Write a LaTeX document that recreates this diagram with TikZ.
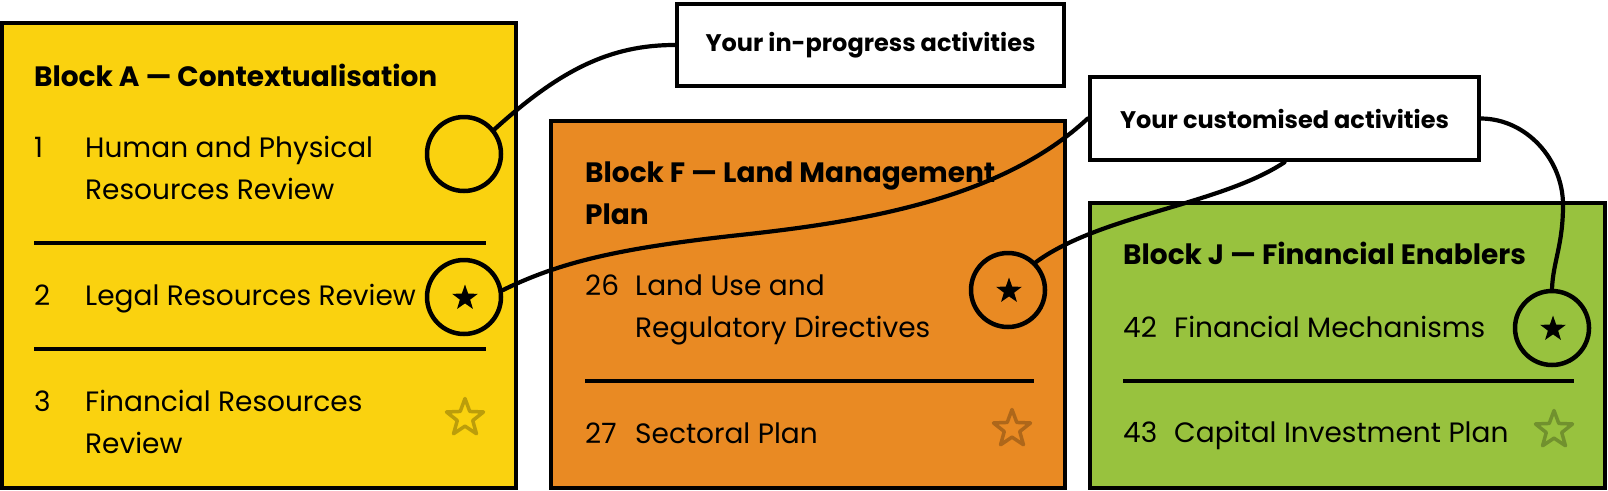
\documentclass[tikz,border=0pt]{standalone}
\usepackage{fontspec}
\setmainfont{Poppins}
\usetikzlibrary{shapes.geometric}

\definecolor{blockA}{RGB}{250,210,15}
\definecolor{blockF}{RGB}{233,138,35}
\definecolor{blockJ}{RGB}{152,194,62}

\begin{document}
\begin{tikzpicture}[line cap=round,line join=round,x=1pt,y=-1pt,
    frame/.style={draw=black,line width=4.5pt,line cap=butt,line join=miter},
    rule/.style={line width=3.5pt,line cap=butt},
    item/.style={anchor=base west,inner sep=0pt,font=\fontsize{28}{34}\selectfont},
    head/.style={anchor=base west,inner sep=0pt,font=\fontsize{28}{34}\selectfont\bfseries},
    ring/.style={circle,draw=black,line width=4.5pt,minimum size=74pt,inner sep=0pt},
    solidstar/.style={star,star points=5,star point ratio=2.5,fill=black,minimum size=27pt,inner sep=0pt},
    faintstar/.style={star,star points=5,star point ratio=2.4,draw=black,draw opacity=0.25,line width=3.5pt,minimum size=39pt,inner sep=0pt},
    note/.style={draw=black,fill=white,line width=4.5pt,line join=miter,inner sep=0pt,font=\fontsize{24}{28}\selectfont\bfseries},
    link/.style={line width=4.2pt}]
        \useasboundingbox (0,0) rectangle (1608,490);
        \draw [frame,fill=blockA] (2,23) rectangle (516,488);
        \draw [frame,fill=blockF] (551,121) rectangle (1065,488);
        \draw [frame,fill=blockJ] (1090,203) rectangle (1605,488);
        \node [head] (titleA) at (34,86) {Block A — Contextualisation};
        \node [item] (numA1) at (34,157) {1};
        \node [item] (itemA1) at (85,157) {Human and Physical};
        \node [item] (itemA1b) at (85,199) {Resources Review};
        \draw [rule] (34,243) -- (486,243);
        \node [item] (numA2) at (34,305) {2};
        \node [item] (itemA2) at (85,305) {Legal Resources Review};
        \draw [rule] (34,349) -- (486,349);
        \node [item] (numA3) at (34,411) {3};
        \node [item] (itemA3) at (85,411) {Financial Resources};
        \node [item] (itemA3b) at (85,453) {Review};
        \node [ring] (ringA1) at (464,154) {};
        \node [ring] (ringA2) at (464,297) {};
        \node [solidstar] (starA2) at (465,298) {};
        \node [faintstar] (starA3) at (465,418) {};
        \node [head] (titleF) at (585,182) {Block F — Land Management};
        \node [head] (titleFb) at (585,224) {Plan};
        \node [item] (numF26) at (585,295) {26};
        \node [item] (itemF26) at (635,295) {Land Use and};
        \node [item] (itemF26b) at (635,337) {Regulatory Directives};
        \draw [rule] (585,381) -- (1034,381);
        \node [item] (numF27) at (585,443) {27};
        \node [item] (itemF27) at (635,443) {Sectoral Plan};
        \node [ring] (ringF) at (1008,290) {};
        \node [solidstar] (starF26) at (1009,291) {};
        \node [faintstar] (starF27) at (1012,429) {};
        \node [head] (titleJ) at (1123,264) {Block J — Financial Enablers};
        \node [item] (numJ42) at (1123,337) {42};
        \node [item] (itemJ42) at (1174,337) {Financial Mechanisms};
        \draw [rule] (1123,381) -- (1574,381);
        \node [item] (numJ43) at (1123,442) {43};
        \node [item] (itemJ43) at (1174,442) {Capital Investment Plan};
        \node [ring] (ringJ) at (1552,328) {};
        \node [solidstar] (starJ42) at (1553,329) {};
        \node [faintstar] (starJ43) at (1554,430) {};
        \node [note,minimum width=387pt,minimum height=82pt] (progress) at (870.5,45) {Your in-progress activities};
        \node [note,minimum width=389pt,minimum height=83pt] (custom) at (1284.5,118.5) {Your customised activities};
        \draw [link] (progress.west) .. controls (610,45) and (560,70) .. (ringA1.39);
        \draw [link] (custom.west) .. controls (1000,200) and (860,222) .. (740,235) .. controls (620,248) and (560,262) .. (ringA2.10);
        \draw [link] (custom.south) .. controls (1220,205) and (1100,215) .. (ringF.45);
        \draw [link] (custom.east) .. controls (1527,119) and (1563,160) .. (1563,205) .. controls (1563,245) and (1553,262) .. (ringJ.north);
    \end{tikzpicture}
\end{document}
